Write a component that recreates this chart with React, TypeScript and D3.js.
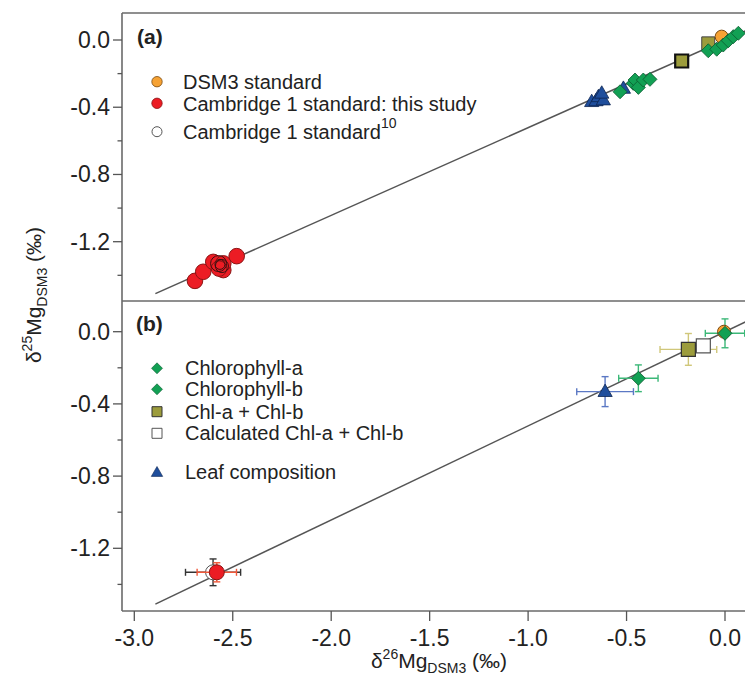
import React from "react";
import * as d3 from "d3";

// ---------- data ----------
const xTicks = [-3.0, -2.5, -2.0, -1.5, -1.0, -0.5, 0.0];
const yTicks = [0.0, -0.4, -0.8, -1.2];
const yMinorTicks = [-0.2, -0.6, -1.0, -1.4];

// fractionation line: d25 = slope * d26
const lineSlope = 0.5216;
const lineX = [-2.893, 0.12];

// Panel (a)
const dsm3A: [number, number][] = [[-0.017, 0.02]];
const cam1ThisStudyA: [number, number][] = [
  [-2.692, -1.433], [-2.650, -1.379], [-2.599, -1.320], [-2.548, -1.369],
  [-2.548, -1.329], [-2.480, -1.286], [-2.57, -1.36],
];
const cam1Ref10A: [number, number][] = [[-2.565, -1.335], [-2.555, -1.345], [-2.572, -1.33]];
const leafA: [number, number][] = [
  [-0.677, -0.367], [-0.655, -0.362], [-0.643, -0.338], [-0.618, -0.357],
  [-0.626, -0.317], [-0.516, -0.288],
];
const chlDiamondsA: [number, number][] = [
  [-0.533, -0.308], [-0.466, -0.258], [-0.457, -0.238], [-0.440, -0.282],
  [-0.415, -0.238], [-0.381, -0.234],
  [-0.085, -0.064], [-0.042, -0.055], [-0.009, -0.030], [0.017, -0.004],
  [0.042, 0.02], [0.068, 0.04],
];
const chlSumA: [number, number][] = [[-0.085, -0.02]];
const chlSumMeanA: [number, number][] = [[-0.220, -0.125]];

// Panel (b): [x, y, xErr, yErr]
const cam1Ref10B: [number, number, number, number][] = [[-2.60, -1.333, 0.14, 0.074]];
const cam1ThisStudyB: [number, number, number, number][] = [[-2.581, -1.333, 0.10, 0.053]];
const dsm3B: [number, number, number, number][] = [[-0.005, 0.0, 0, 0]];
const chlaB: [number, number, number, number][] = [[0.0, -0.009, 0.10, 0.08]];
const chlbB: [number, number, number, number][] = [[-0.440, -0.258, 0.10, 0.074]];
const chlSumB: [number, number, number, number][] = [[-0.186, -0.098, 0.144, 0.088]];
const chlCalcB: [number, number, number, number][] = [[-0.110, -0.079, 0, 0]];
const leafB: [number, number, number, number][] = [[-0.609, -0.332, 0.144, 0.083]];

const legendA = ["DSM3 standard", "Cambridge 1 standard: this study", "Cambridge 1 standard"];
const legendB = ["Chlorophyll-a", "Chlorophyll-b", "Chl-a + Chl-b", "Calculated Chl-a + Chl-b", "Leaf composition"];

// ---------- styles ----------
const FONT = "'Liberation Sans', Arial, Helvetica, sans-serif";
const TXT = "#222";
const C_ORANGE = "#f6a234";
const C_RED = "#ec1c24";
const C_GREEN = "#12a054";
const C_OLIVE = "#9c9c3c";
const C_BLUE = "#1f4e9c";

const W = 745, H = 676;
const L = 122, R = 760;
const A_TOP = 13, MID = 301, B_BOT = 611;

const x = d3.scaleLinear().domain([-3, 0]).range([134.3, 725]);
const yA = d3.scaleLinear().domain([0, -1.2]).range([40, 241.7]);
const yB = d3.scaleLinear().domain([0, -1.2]).range([331.7, 548.3]);

const diamond = (cx: number, cy: number, r: number) =>
  `M${cx},${cy - r}L${cx + r},${cy}L${cx},${cy + r}L${cx - r},${cy}Z`;
const triangle = (cx: number, cy: number, r: number) =>
  `M${cx},${cy - r}L${cx + r * 0.95},${cy + r * 0.65}L${cx - r * 0.95},${cy + r * 0.65}Z`;
const square = (cx: number, cy: number, r: number) =>
  `M${cx - r},${cy - r}H${cx + r}V${cy + r}H${cx - r}Z`;

function ErrBars({ cx, cy, dx, dy, color }: { cx: number; cy: number; dx: number; dy: number; color: string }) {
  const c = 3.5;
  return (
    <g stroke={color} strokeWidth={1.4} fill="none">
      {dx > 0 && (
        <>
          <line x1={cx - dx} x2={cx + dx} y1={cy} y2={cy} />
          <line x1={cx - dx} x2={cx - dx} y1={cy - c} y2={cy + c} />
          <line x1={cx + dx} x2={cx + dx} y1={cy - c} y2={cy + c} />
        </>
      )}
      {dy > 0 && (
        <>
          <line x1={cx} x2={cx} y1={cy - dy} y2={cy + dy} />
          <line x1={cx - c} x2={cx + c} y1={cy - dy} y2={cy - dy} />
          <line x1={cx - c} x2={cx + c} y1={cy + dy} y2={cy + dy} />
        </>
      )}
    </g>
  );
}

export default function App() {
  const px = (v: number) => x(v);
  const unitX = x(1) - x(0);
  const unitYB = yB(0) - yB(1);

  const lineA = d3.line<number>().x((v) => x(v)).y((v) => yA(v * lineSlope));
  const lineB = d3.line<number>().x((v) => x(v)).y((v) => yB(v * lineSlope));

  const yAxis = (ys: d3.ScaleLinear<number, number>, key: string) => (
    <g key={key}>
      {yTicks.map((t) => (
        <g key={t}>
          <line x1={L - 9} x2={L} y1={ys(t)} y2={ys(t)} stroke="#555" strokeWidth={1.3} />
          <text x={110} y={ys(t) + 8} textAnchor="end" fontSize={23} fill={TXT}>
            {t.toFixed(1)}
          </text>
        </g>
      ))}
      {yMinorTicks.map((t) => (
        <line key={"m" + t} x1={L - 4.5} x2={L} y1={ys(t)} y2={ys(t)} stroke="#555" strokeWidth={1.3} />
      ))}
    </g>
  );

  return (
    <svg width={W} height={H} style={{ position: "absolute", left: 0, top: 0, background: "#fff" }} fontFamily={FONT}>
      <defs>
        <clipPath id="clipA"><rect x={L} y={A_TOP} width={R - L} height={MID - A_TOP} /></clipPath>
        <clipPath id="clipB"><rect x={L} y={MID} width={R - L} height={B_BOT - MID} /></clipPath>
      </defs>
      <rect x={0} y={0} width={W} height={H} fill="#fff" />

      {/* ---------- panel (a) ---------- */}
      <g clipPath="url(#clipA)">
        <path d={lineA(lineX) || ""} stroke="#555" strokeWidth={1.5} fill="none" />
        {cam1ThisStudyA.map((d, i) => (
          <circle key={"ra" + i} cx={px(d[0])} cy={yA(d[1])} r={7.8} fill={C_RED} stroke="#8a1414" strokeWidth={1} />
        ))}
        {cam1Ref10A.map((d, i) => (
          <circle key={"oa" + i} cx={px(d[0])} cy={yA(d[1])} r={5 + i * 1.5} fill="none" stroke="#3a1010" strokeWidth={1} />
        ))}
        {leafA.map((d, i) => (
          <path key={"ta" + i} d={triangle(px(d[0]), yA(d[1]), 7.5)} fill={C_BLUE} stroke="#0d2550" strokeWidth={0.8} />
        ))}
        {chlSumMeanA.map((d, i) => (
          <path key={"sma" + i} d={square(px(d[0]), yA(d[1]), 6.5)} fill={C_OLIVE} stroke="#111" strokeWidth={2.2} />
        ))}
        {chlSumA.map((d, i) => (
          <path key={"sa" + i} d={square(px(d[0]), yA(d[1]), 6.5)} fill={C_OLIVE} stroke="#444" strokeWidth={1} />
        ))}
        {dsm3A.map((d, i) => (
          <circle key={"da" + i} cx={px(d[0])} cy={yA(d[1])} r={6.5} fill={C_ORANGE} stroke="#7a4a10" strokeWidth={1} />
        ))}
        {chlDiamondsA.map((d, i) => (
          <path key={"ga" + i} d={diamond(px(d[0]), yA(d[1]), 7)} fill={C_GREEN} stroke="#0b5a30" strokeWidth={0.8} />
        ))}
      </g>

      {/* ---------- panel (b) ---------- */}
      <g clipPath="url(#clipB)">
        <path d={lineB(lineX) || ""} stroke="#555" strokeWidth={1.5} fill="none" />
        {cam1Ref10B.map((d, i) => (
          <g key={"ob" + i}>
            <ErrBars cx={px(d[0])} cy={yB(d[1])} dx={d[2] * unitX} dy={d[3] * unitYB} color="#333" />
            <circle cx={px(d[0])} cy={yB(d[1])} r={7.5} fill="#fff" stroke="#555" strokeWidth={1} />
          </g>
        ))}
        {cam1ThisStudyB.map((d, i) => (
          <g key={"rb" + i}>
            <ErrBars cx={px(d[0])} cy={yB(d[1])} dx={d[2] * unitX} dy={d[3] * unitYB} color="#f0583a" />
            <circle cx={px(d[0])} cy={yB(d[1])} r={7.5} fill={C_RED} stroke="#8a1414" strokeWidth={1} />
          </g>
        ))}
        {leafB.map((d, i) => (
          <g key={"tb" + i}>
            <ErrBars cx={px(d[0])} cy={yB(d[1])} dx={d[2] * unitX} dy={d[3] * unitYB} color="#5b78c4" />
            <path d={triangle(px(d[0]), yB(d[1]), 7.5)} fill={C_BLUE} stroke="#0d2550" strokeWidth={0.8} />
          </g>
        ))}
        {chlbB.map((d, i) => (
          <g key={"gbb" + i}>
            <ErrBars cx={px(d[0])} cy={yB(d[1])} dx={d[2] * unitX} dy={d[3] * unitYB} color="#3cb878" />
            <path d={diamond(px(d[0]), yB(d[1]), 7)} fill={C_GREEN} stroke="#0b5a30" strokeWidth={0.8} />
          </g>
        ))}
        {chlSumB.map((d, i) => (
          <g key={"sb" + i}>
            <ErrBars cx={px(d[0])} cy={yB(d[1])} dx={d[2] * unitX} dy={d[3] * unitYB} color="#d0c77a" />
          </g>
        ))}
        {chlCalcB.map((d, i) => (
          <path key={"cb" + i} d={square(px(d[0]), yB(d[1]), 7)} fill="#fff" stroke="#555" strokeWidth={1.2} />
        ))}
        {chlSumB.map((d, i) => (
          <path key={"sbm" + i} d={square(px(d[0]), yB(d[1]), 7)} fill={C_OLIVE} stroke="#333" strokeWidth={1.2} />
        ))}
        {chlaB.map((d, i) => (
          <ErrBars key={"gae" + i} cx={px(d[0])} cy={yB(d[1])} dx={d[2] * unitX} dy={d[3] * unitYB} color="#3cb878" />
        ))}
        {dsm3B.map((d, i) => (
          <circle key={"db" + i} cx={px(d[0])} cy={yB(d[1])} r={6.5} fill={C_ORANGE} stroke="#7a4a10" strokeWidth={1} />
        ))}
        {chlaB.map((d, i) => (
          <path key={"gab" + i} d={diamond(px(d[0]), yB(d[1]), 7)} fill={C_GREEN} stroke="#0b5a30" strokeWidth={0.8} />
        ))}
      </g>

      {/* ---------- frame ---------- */}
      <g stroke="#6a6a6a" strokeWidth={1.6} fill="none">
        <line x1={L} x2={R} y1={A_TOP} y2={A_TOP} />
        <line x1={L} x2={R} y1={MID} y2={MID} />
        <line x1={L} x2={R} y1={B_BOT} y2={B_BOT} />
        <line x1={L} x2={L} y1={A_TOP} y2={B_BOT} />
      </g>

      {/* ---------- axes ---------- */}
      {yAxis(yA, "ya")}
      {yAxis(yB, "yb")}
      {xTicks.map((t) => (
        <g key={"x" + t}>
          <line x1={x(t)} x2={x(t)} y1={B_BOT} y2={B_BOT + 10} stroke="#555" strokeWidth={1.3} />
          <text x={x(t)} y={646} textAnchor="middle" fontSize={23} fill={TXT}>
            {t.toFixed(1)}
          </text>
        </g>
      ))}

      {/* axis titles */}
      <text x={439} y={668} textAnchor="middle" fontSize={21} fill={TXT}>
        δ<tspan dy={-9} fontSize={14}>26</tspan>
        <tspan dy={9}>Mg</tspan>
        <tspan dy={5} fontSize={14}>DSM3</tspan>
        <tspan dy={-5}> (‰)</tspan>
      </text>
      <text transform="translate(41,295) rotate(-90)" textAnchor="middle" fontSize={21} fill={TXT}>
        δ<tspan dy={-9} fontSize={14}>25</tspan>
        <tspan dy={9}>Mg</tspan>
        <tspan dy={6} fontSize={14}>DSM3</tspan>
        <tspan dy={-6}> (‰)</tspan>
      </text>

      {/* panel labels */}
      <text x={137} y={44} fontSize={21} fontWeight="bold" fill={TXT}>(a)</text>
      <text x={136} y={331} fontSize={21} fontWeight="bold" fill={TXT}>(b)</text>

      {/* legend (a) */}
      <circle cx={157} cy={81.7} r={5.2} fill={C_ORANGE} stroke="#7a4a10" strokeWidth={0.8} />
      <circle cx={157} cy={103.3} r={5.2} fill={C_RED} stroke="#8a1414" strokeWidth={0.8} />
      <circle cx={157} cy={131.7} r={5} fill="#fff" stroke="#555" strokeWidth={1} />
      <text x={183} y={88.5} fontSize={20} fill={TXT}>{legendA[0]}</text>
      <text x={183} y={110.5} fontSize={20} fill={TXT}>{legendA[1]}</text>
      <text x={183} y={138.5} fontSize={20} fill={TXT}>
        {legendA[2]}
        <tspan dy={-11} fontSize={14}>10</tspan>
      </text>

      {/* legend (b) */}
      <path d={diamond(157, 368.3, 5.5)} fill={C_GREEN} stroke="#0b5a30" strokeWidth={0.6} />
      <path d={diamond(157, 389.3, 5.5)} fill={C_GREEN} stroke="#0b5a30" strokeWidth={0.6} />
      <path d={square(157, 411.7, 5)} fill={C_OLIVE} stroke="#333" strokeWidth={1} />
      <path d={square(157, 433.3, 5)} fill="#fff" stroke="#555" strokeWidth={1} />
      <path d={triangle(157, 472.5, 6)} fill={C_BLUE} stroke="#0d2550" strokeWidth={0.6} />
      {legendB.map((s, i) => (
        <text key={s} x={185} y={[375, 396, 418.5, 440, 478.5][i]} fontSize={20} fill={TXT}>{s}</text>
      ))}
    </svg>
  );
}
